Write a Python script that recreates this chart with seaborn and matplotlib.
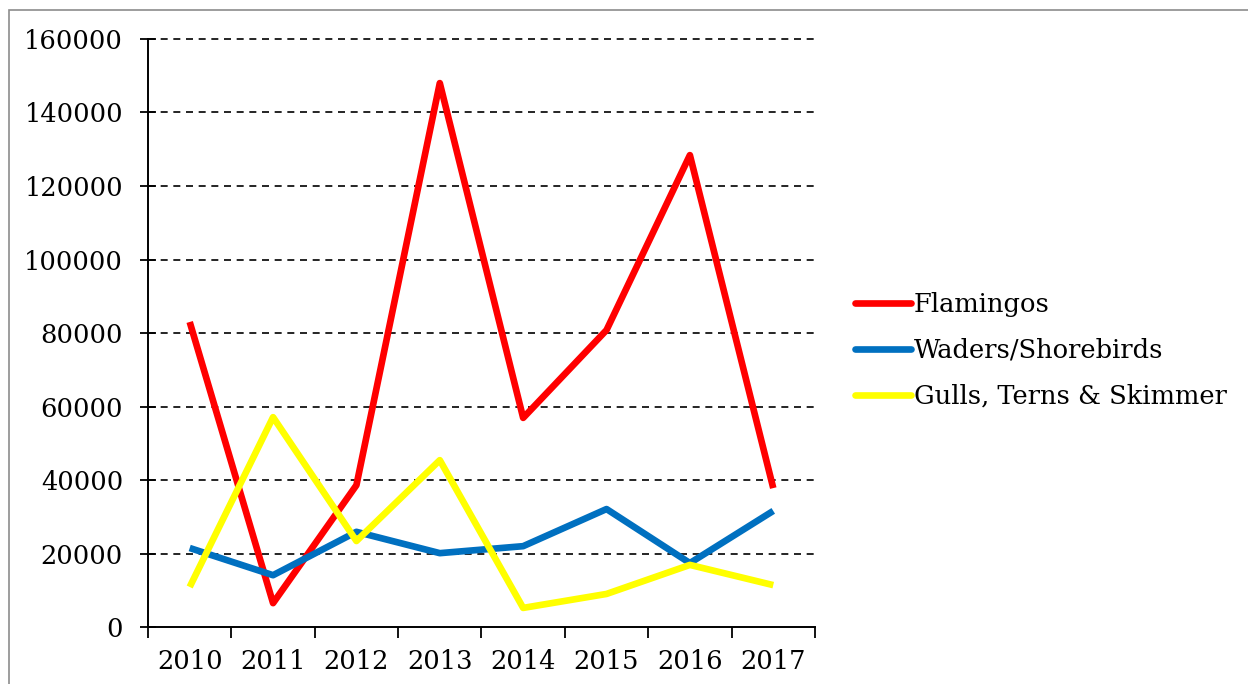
import numpy as np
import pandas as pd
import seaborn as sns
import matplotlib.pyplot as plt
from matplotlib.patches import Rectangle

# values
years = ["2010", "2011", "2012", "2013", "2014", "2015", "2016", "2017"]
flamingos = [83000, 6500, 38600, 148000, 56900, 80800, 128400, 37800]
waders = [21500, 14100, 25900, 20100, 22000, 32100, 17400, 31600]
gulls = [10900, 57100, 23400, 45400, 5200, 9000, 16900, 11400]
series_names = ["Flamingos", "Waders/Shorebirds", "Gulls, Terns & Skimmer"]
series_colors = ["#FF0000", "#0070C0", "#FFFF00"]
y_ticks = [0, 20000, 40000, 60000, 80000, 100000, 120000, 140000, 160000]

df = pd.DataFrame({
    "Year": years * 3,
    "Count": flamingos + waders + gulls,
    "Group": [n for n in series_names for _ in years],
})

sns.set_theme(style="white")
plt.rcParams["font.family"] = ["DejaVu Serif"]
plt.rcParams["text.color"] = "black"

fs = 18.5
fig = plt.figure(figsize=(12.48, 6.84), dpi=100)
ax = fig.add_axes([0.1186, 0.0833, 0.653 - 0.1186, 0.943 - 0.0833])

# outer chart frame
fig.patches.append(Rectangle((9 / 1248, -0.05), 1.2, 1 - 10 / 684 + 0.05,
                             transform=fig.transFigure, fill=False,
                             edgecolor="#8c8c8c", linewidth=1.2))

sns.lineplot(data=df, x="Year", y="Count", hue="Group", palette=series_colors,
             linewidth=4.8, ax=ax, sort=False, solid_capstyle="butt")

ax.set_ylim(0, 160000)
ax.set_xlim(-0.5, len(years) - 0.5)
ax.set_yticks(y_ticks)
ax.set_yticklabels([str(v) for v in y_ticks], fontsize=fs, color="black")
ax.set_xticks(range(len(years)))
ax.set_xticklabels(years, fontsize=fs, color="black")
ax.set_xticks(np.arange(-0.5, len(years)), minor=True)
ax.tick_params(axis="x", which="major", length=0, pad=16)
ax.tick_params(axis="x", which="minor", length=8, width=1.3, direction="out",
               color="black", bottom=True)
ax.tick_params(axis="y", which="major", length=12, width=1.3, direction="inout",
               color="black", left=True, pad=12)

for v in y_ticks[1:]:
    ax.axhline(v, color="black", linewidth=1.2, linestyle=(0, (4.2, 3.4)),
               zorder=0, clip_on=False)

for s in ["top", "right"]:
    ax.spines[s].set_visible(False)
for s in ["left", "bottom"]:
    ax.spines[s].set_color("black")
    ax.spines[s].set_linewidth(1.4)

ax.set_xlabel("")
ax.set_ylabel("")

leg = ax.legend(loc="center left", bbox_to_anchor=(0.685, 0.488),
                bbox_transform=fig.transFigure, frameon=False, fontsize=fs,
                handlelength=2.2, handletextpad=0.1, labelspacing=0.82,
                borderpad=0, borderaxespad=0, labelcolor="black")
for line in leg.get_lines():
    line.set_linewidth(4.8)
    line.set_solid_capstyle("round")

fig.savefig("out.png", dpi=100)
